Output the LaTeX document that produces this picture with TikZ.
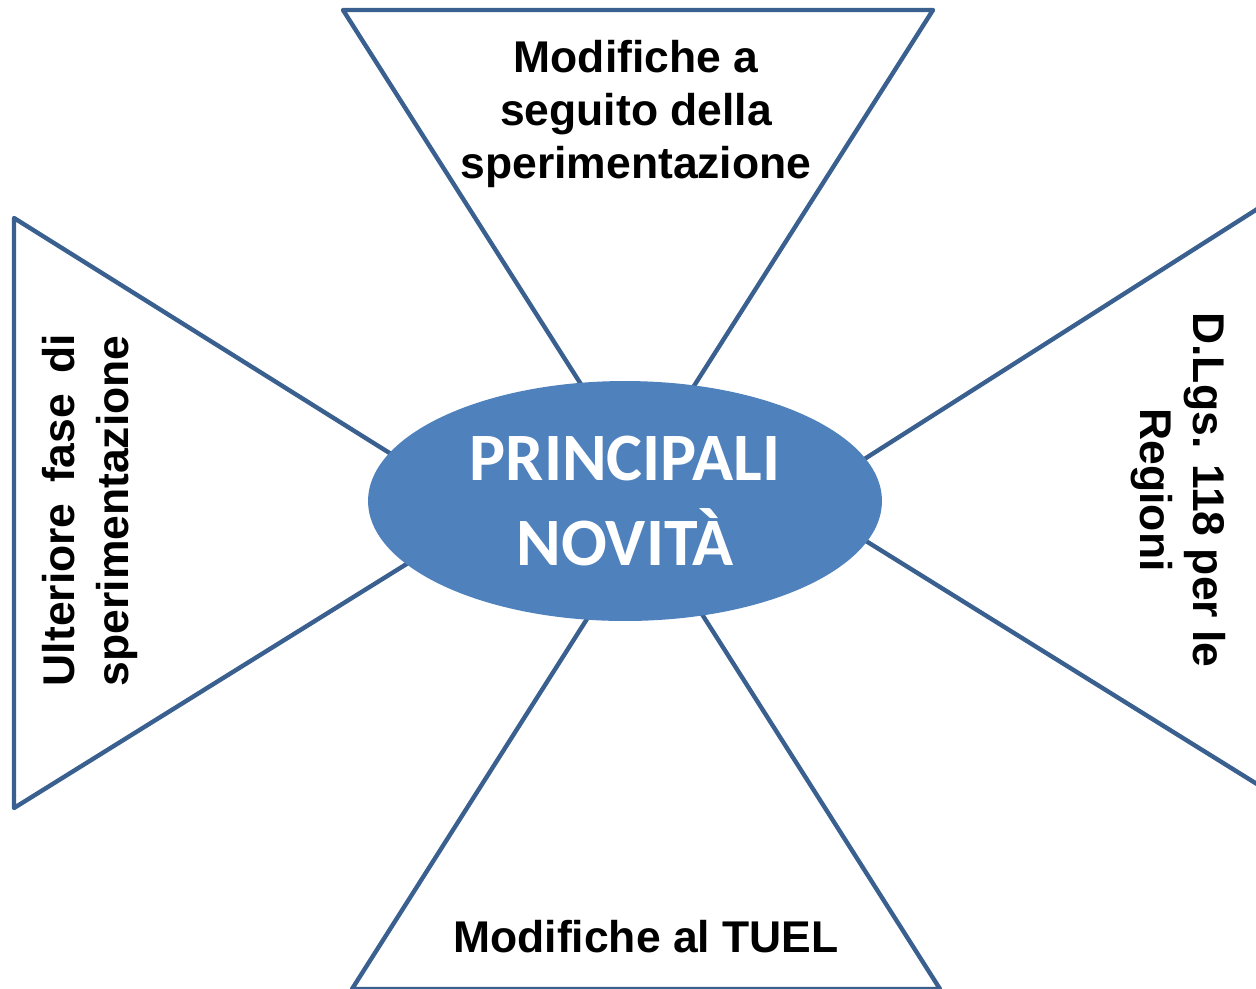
\documentclass[tikz,border=0pt]{standalone}
\usepackage{fontspec}
\setmainfont{Liberation Sans}
\newfontfamily\carlito{Carlito}
\usetikzlibrary{shapes.geometric}
\definecolor{EdgeBlue}{HTML}{3A6090}
\definecolor{CoreBlue}{HTML}{4F81BD}

\begin{document}
\begin{tikzpicture}[x=0.02cm, y=-0.02cm,
	tri/.style={draw=EdgeBlue, line width=2.5pt, fill=white, line join=round},
	lbl/.style={font=\bfseries\fontsize{25.3}{30.2}\selectfont, align=center, inner sep=0pt},
	core/.style={ellipse, fill=CoreBlue, minimum width=10.28cm, minimum height=4.8cm, inner sep=0pt, text=white, align=center, font=\carlito\bfseries\fontsize{38.6}{48.4}\selectfont}]
	\useasboundingbox (0,0) rectangle (1256,988);
	\draw[tri] (343,10) -- (933,10) -- (638,474) -- cycle;
	\draw[tri] (352,989) -- (940,989) -- (646,526) -- cycle;
	\draw[tri] (14,218) -- (14,808) -- (487,514) -- cycle;
	\draw[tri] (1273,199) -- (1273,794) -- (800,500) -- cycle;
	\node (core) at (625,501)[core]{PRINCIPALI\\NOVITÀ};
	\node (up) at (636,114)[lbl]{Modifiche a\\seguito della\\sperimentazione};
	\node (down) at (646,937)[lbl]{Modifiche al TUEL};
	\node (left) at (90,510)[lbl, rotate=90, text width=200.5pt, align=justify]{Ulteriore fase di\linebreak sperimentazione};
	\node (right) at (1178,490)[lbl, rotate=-90]{D.Lgs. 118 per le\\Regioni};
\end{tikzpicture}
\end{document}
